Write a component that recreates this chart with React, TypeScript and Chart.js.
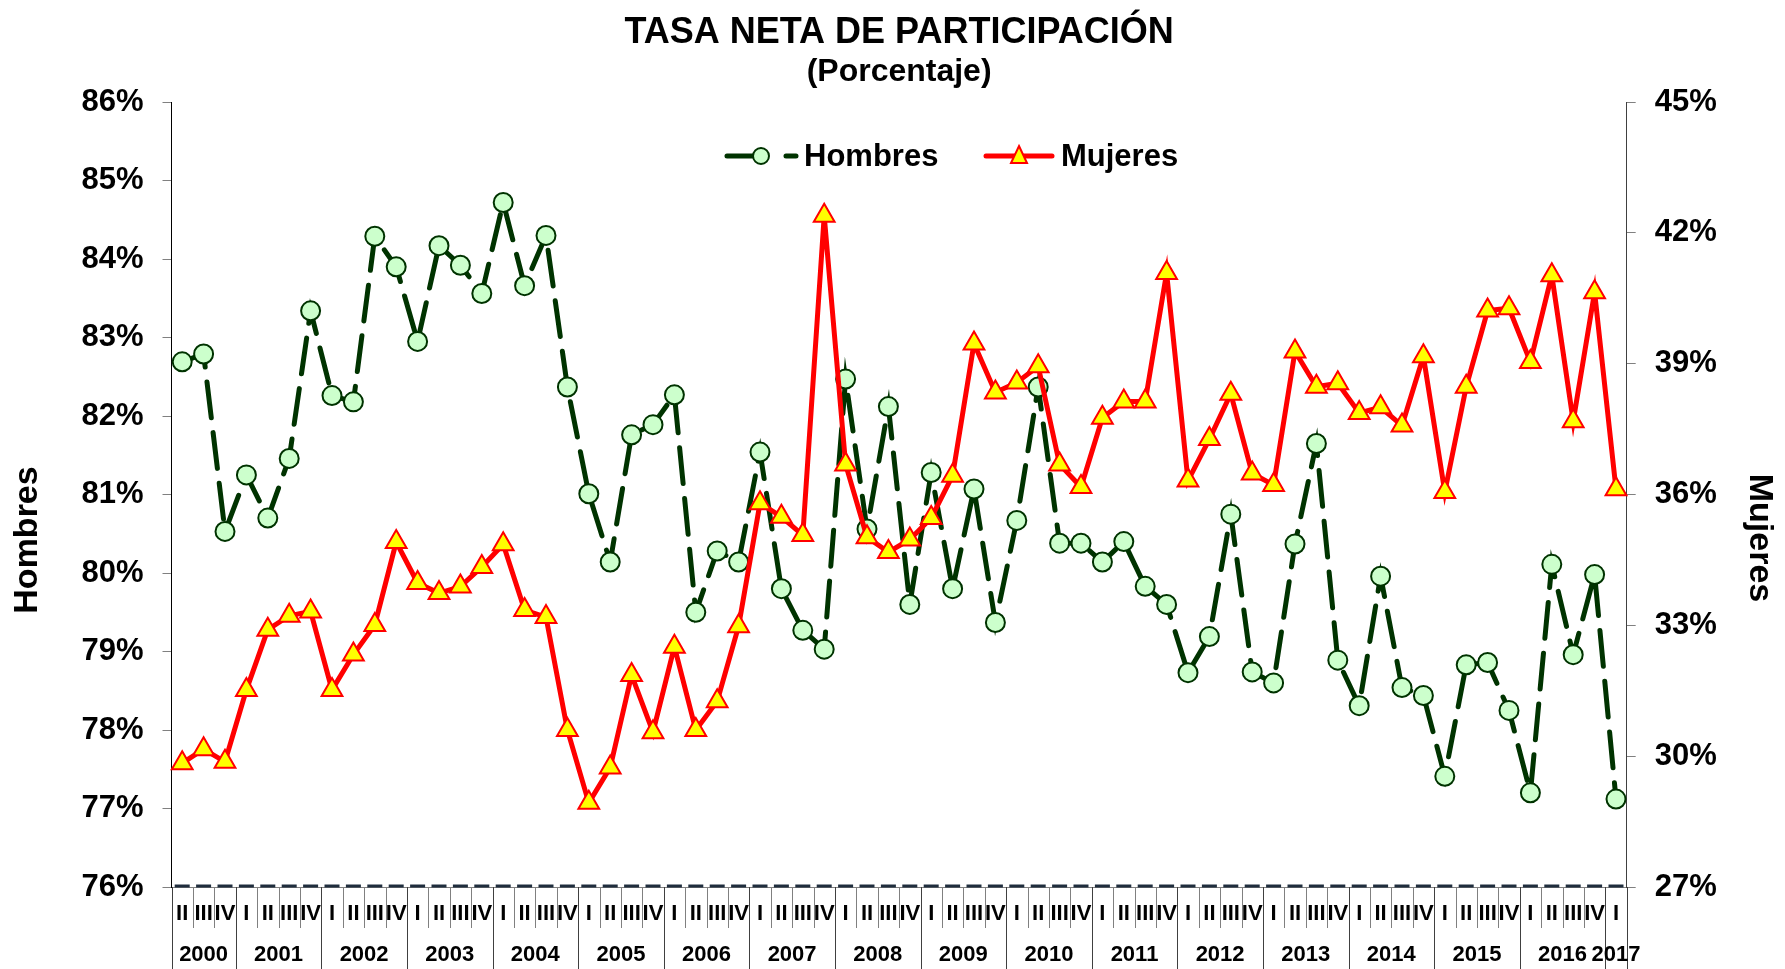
import React, { useEffect, useRef } from "react";
import { Chart, registerables } from "chart.js";

Chart.register(...registerables);

const FONT = '"Liberation Sans", Arial, Helvetica, sans-serif';

const TITLE = "TASA NETA DE PARTICIPACIÓN";
const SUBTITLE = "(Porcentaje)";
const LEFT_AXIS_TITLE = "Hombres";
const RIGHT_AXIS_TITLE = "Mujeres";

// Quarter categories, 2000 II .. 2017 I
const quarterLabels = [
  "II", "III", "IV",
  "I", "II", "III", "IV",
  "I", "II", "III", "IV",
  "I", "II", "III", "IV",
  "I", "II", "III", "IV",
  "I", "II", "III", "IV",
  "I", "II", "III", "IV",
  "I", "II", "III", "IV",
  "I", "II", "III", "IV",
  "I", "II", "III", "IV",
  "I", "II", "III", "IV",
  "I", "II", "III", "IV",
  "I", "II", "III", "IV",
  "I", "II", "III", "IV",
  "I", "II", "III", "IV",
  "I", "II", "III", "IV",
  "I", "II", "III", "IV",
  "I",
];

const yearLabels = [
  "2000", "2001", "2002", "2003", "2004", "2005", "2006", "2007", "2008",
  "2009", "2010", "2011", "2012", "2013", "2014", "2015", "2016", "2017",
];
const quartersPerYear = [3, 4, 4, 4, 4, 4, 4, 4, 4, 4, 4, 4, 4, 4, 4, 4, 4, 1];

// Hombres (left axis, %)
const hombres = [
  82.69, 82.79, 80.53,
  81.25, 80.70, 81.46, 83.34,
  82.26, 82.18, 84.29, 83.90,
  82.95, 84.17, 83.92, 83.56,
  84.72, 83.66, 84.30, 82.37,
  81.01, 80.14, 81.76, 81.89,
  82.27, 79.50, 80.28, 80.14,
  81.54, 79.80, 79.27, 79.03,
  82.47, 80.56, 82.12, 79.60,
  81.28, 79.80, 81.07, 79.37,
  80.67, 82.37, 80.38, 80.38,
  80.14, 80.40, 79.83, 79.60,
  78.73, 79.19, 80.75, 78.74,
  78.60, 80.37, 81.65, 78.89,
  78.31, 79.96, 78.54, 78.44,
  77.41, 78.83, 78.86, 78.25,
  77.20, 80.11, 78.96, 79.98,
  77.12,
];

// Mujeres (right axis, %)
const mujeres = [
  29.84, 30.16, 29.87,
  31.52, 32.90, 33.22, 33.32,
  31.52, 32.33, 33.01, 34.91,
  33.97, 33.74, 33.89, 34.34,
  34.86, 33.35, 33.19, 30.60,
  28.93, 29.74, 31.86, 30.55,
  32.51, 30.60, 31.26, 32.98,
  35.80, 35.49, 35.07, 42.39,
  36.69, 35.02, 34.68, 34.97,
  35.46, 36.43, 39.46, 38.34,
  38.57, 38.94, 36.69, 36.17,
  37.76, 38.13, 38.13, 41.08,
  36.32, 37.27, 38.31, 36.48,
  36.22, 39.28, 38.47, 38.55,
  37.87, 38.00, 37.58, 39.17,
  36.06, 38.47, 40.22, 40.27,
  39.04, 41.03, 37.68, 40.64,
  36.12,
];

const leftMin = 76;
const leftMax = 86;
const leftStep = 1;
const rightMin = 27;
const rightMax = 45;
const rightStep = 3;

const HOMBRES_LINE = "#003300";
const HOMBRES_FILL = "#ccffcc";
const MUJERES_LINE = "#ff0000";
const MUJERES_FILL = "#ffff00";
const HOMBRES_DASH = [36, 15];

const decorPlugin = {
  id: "decor",
  afterDraw(chart: any) {
    const { ctx, chartArea, scales } = chart;
    const x = scales.x;
    ctx.save();

    // Titles
    const cx = (chartArea.left + chartArea.right) / 2;
    ctx.fillStyle = "#000";
    ctx.textAlign = "center";
    ctx.textBaseline = "middle";
    ctx.font = `bold 36px ${FONT}`;
    ctx.fillText(TITLE, cx, 33);
    ctx.font = `bold 32px ${FONT}`;
    ctx.fillText(SUBTITLE, cx, 72);

    // Axis titles
    ctx.font = `bold 34px ${FONT}`;
    ctx.save();
    ctx.translate(28, 540);
    ctx.rotate(-Math.PI / 2);
    ctx.fillText(LEFT_AXIS_TITLE, 0, 0);
    ctx.restore();
    ctx.save();
    ctx.translate(1759, 538);
    ctx.rotate(Math.PI / 2);
    ctx.fillText(RIGHT_AXIS_TITLE, 0, 0);
    ctx.restore();

    // Legend
    const ly = 156;
    ctx.font = `bold 31px ${FONT}`;
    ctx.textAlign = "left";
    // Hombres
    ctx.strokeStyle = HOMBRES_LINE;
    ctx.lineWidth = 5;
    ctx.lineCap = "round";
    ctx.setLineDash([]);
    ctx.beginPath();
    ctx.moveTo(727, ly);
    ctx.lineTo(752, ly);
    ctx.moveTo(786, ly);
    ctx.lineTo(796, ly);
    ctx.stroke();
    ctx.beginPath();
    ctx.arc(761, ly, 8, 0, Math.PI * 2);
    ctx.fillStyle = HOMBRES_FILL;
    ctx.fill();
    ctx.lineWidth = 2;
    ctx.stroke();
    ctx.fillStyle = "#000";
    ctx.fillText(chart.data.datasets[0].label, 804, ly + 1);
    // Mujeres
    ctx.strokeStyle = MUJERES_LINE;
    ctx.lineWidth = 5;
    ctx.beginPath();
    ctx.moveTo(986, ly);
    ctx.lineTo(1052, ly);
    ctx.stroke();
    ctx.beginPath();
    ctx.moveTo(1019, ly - 10);
    ctx.lineTo(1027, ly + 7);
    ctx.lineTo(1011, ly + 7);
    ctx.closePath();
    ctx.fillStyle = MUJERES_FILL;
    ctx.fill();
    ctx.lineWidth = 2;
    ctx.lineJoin = "miter";
    ctx.stroke();
    ctx.fillStyle = "#000";
    ctx.fillText(chart.data.datasets[1].label, 1061, ly + 1);

    // X axis: baseline dashes
    const base = chartArea.bottom;
    const step = x.getPixelForValue(1) - x.getPixelForValue(0);
    const n = quarterLabels.length;
    ctx.lineCap = "butt";
    ctx.strokeStyle = "#1f2d3d";
    ctx.lineWidth = 3;
    for (let i = 0; i < n; i++) {
      const c = x.getPixelForValue(i);
      ctx.beginPath();
      ctx.moveTo(c - 7.5, base - 1);
      ctx.lineTo(c + 7.5, base - 1);
      ctx.stroke();
    }

    // Quarter separators
    ctx.strokeStyle = "#808080";
    ctx.lineWidth = 1;
    for (let i = 0; i <= n; i++) {
      const px = Math.round(x.getPixelForValue(i - 0.5)) + 0.5;
      ctx.beginPath();
      ctx.moveTo(px, base);
      ctx.lineTo(px, base + 41);
      ctx.stroke();
    }
    // Year separators
    ctx.strokeStyle = "#404040";
    let idx = 0;
    const yearStarts: number[] = [0];
    quartersPerYear.forEach((q) => {
      idx += q;
      yearStarts.push(idx);
    });
    yearStarts.forEach((s) => {
      const px = Math.round(x.getPixelForValue(s - 0.5)) + 0.5;
      ctx.beginPath();
      ctx.moveTo(px, base);
      ctx.lineTo(px, 969);
      ctx.stroke();
    });

    // Quarter labels
    ctx.fillStyle = "#000";
    ctx.textAlign = "center";
    ctx.textBaseline = "middle";
    ctx.font = `bold 22px ${FONT}`;
    for (let i = 0; i < n; i++) {
      ctx.fillText(quarterLabels[i], x.getPixelForValue(i), 914);
    }
    // Year labels
    yearLabels.forEach((yl, k) => {
      const a = x.getPixelForValue(yearStarts[k] - 0.5);
      const b = x.getPixelForValue(yearStarts[k + 1] - 0.5);
      ctx.fillText(yl, (a + b) / 2, 955);
    });

    ctx.restore();
  },
};

export default function App() {
  const canvasRef = useRef<HTMLCanvasElement | null>(null);

  useEffect(() => {
    document.body.style.margin = "0";
    const canvas = canvasRef.current;
    if (!canvas) return;
    const tickFont = { family: FONT, size: 31, weight: "bold" as const };
    const chart = new Chart(canvas, {
      type: "line",
      data: {
        labels: quarterLabels,
        datasets: [
          {
            label: "Hombres",
            data: hombres,
            yAxisID: "y",
            order: 2,
            borderColor: HOMBRES_LINE,
            borderWidth: 5,
            borderDash: HOMBRES_DASH,
            borderCapStyle: "round",
            pointStyle: "circle",
            pointRadius: 9.5,
            pointBorderWidth: 2,
            pointBorderColor: HOMBRES_LINE,
            pointBackgroundColor: HOMBRES_FILL,
            tension: 0,
            fill: false,
          },
          {
            label: "Mujeres",
            data: mujeres,
            yAxisID: "y1",
            order: 1,
            borderColor: MUJERES_LINE,
            borderWidth: 5,
            pointStyle: "triangle",
            pointRadius: 12,
            pointBorderWidth: 2,
            pointBorderColor: MUJERES_LINE,
            pointBackgroundColor: MUJERES_FILL,
            tension: 0,
            fill: false,
          },
        ],
      },
      options: {
        animation: false,
        responsive: false,
        devicePixelRatio: 1,
        layout: { padding: { top: 102, left: 0, right: 0, bottom: 0 } },
        plugins: {
          legend: { display: false },
          title: { display: false },
          tooltip: { enabled: false },
        },
        scales: {
          x: {
            type: "category",
            offset: true,
            grid: { display: false },
            ticks: { display: false },
            border: { display: true, color: "#808080", width: 1 },
            afterFit: (s: any) => {
              s.height = 82;
            },
          },
          y: {
            type: "linear",
            position: "left",
            min: leftMin,
            max: leftMax,
            ticks: {
              stepSize: leftStep,
              color: "#000",
              font: tickFont,
              padding: 19,
              callback: (v: any) => `${v}%`,
            },
            grid: { drawOnChartArea: false, tickLength: 9, color: "#808080" },
            border: { color: "#000", width: 1 },
            afterFit: (s: any) => {
              s.width = 171.5;
            },
          },
          y1: {
            type: "linear",
            position: "right",
            min: rightMin,
            max: rightMax,
            ticks: {
              stepSize: rightStep,
              color: "#000",
              font: tickFont,
              padding: 19,
              callback: (v: any) => `${v}%`,
            },
            grid: { drawOnChartArea: false, tickLength: 9, color: "#808080" },
            border: { color: "#404040", width: 1 },
            afterFit: (s: any) => {
              s.width = 158.3;
            },
          },
        },
      },
      plugins: [decorPlugin],
    });
    return () => chart.destroy();
  }, []);

  return (
    <canvas
      ref={canvasRef}
      width={1785}
      height={969}
      style={{ display: "block", width: 1785, height: 969 }}
    />
  );
}
